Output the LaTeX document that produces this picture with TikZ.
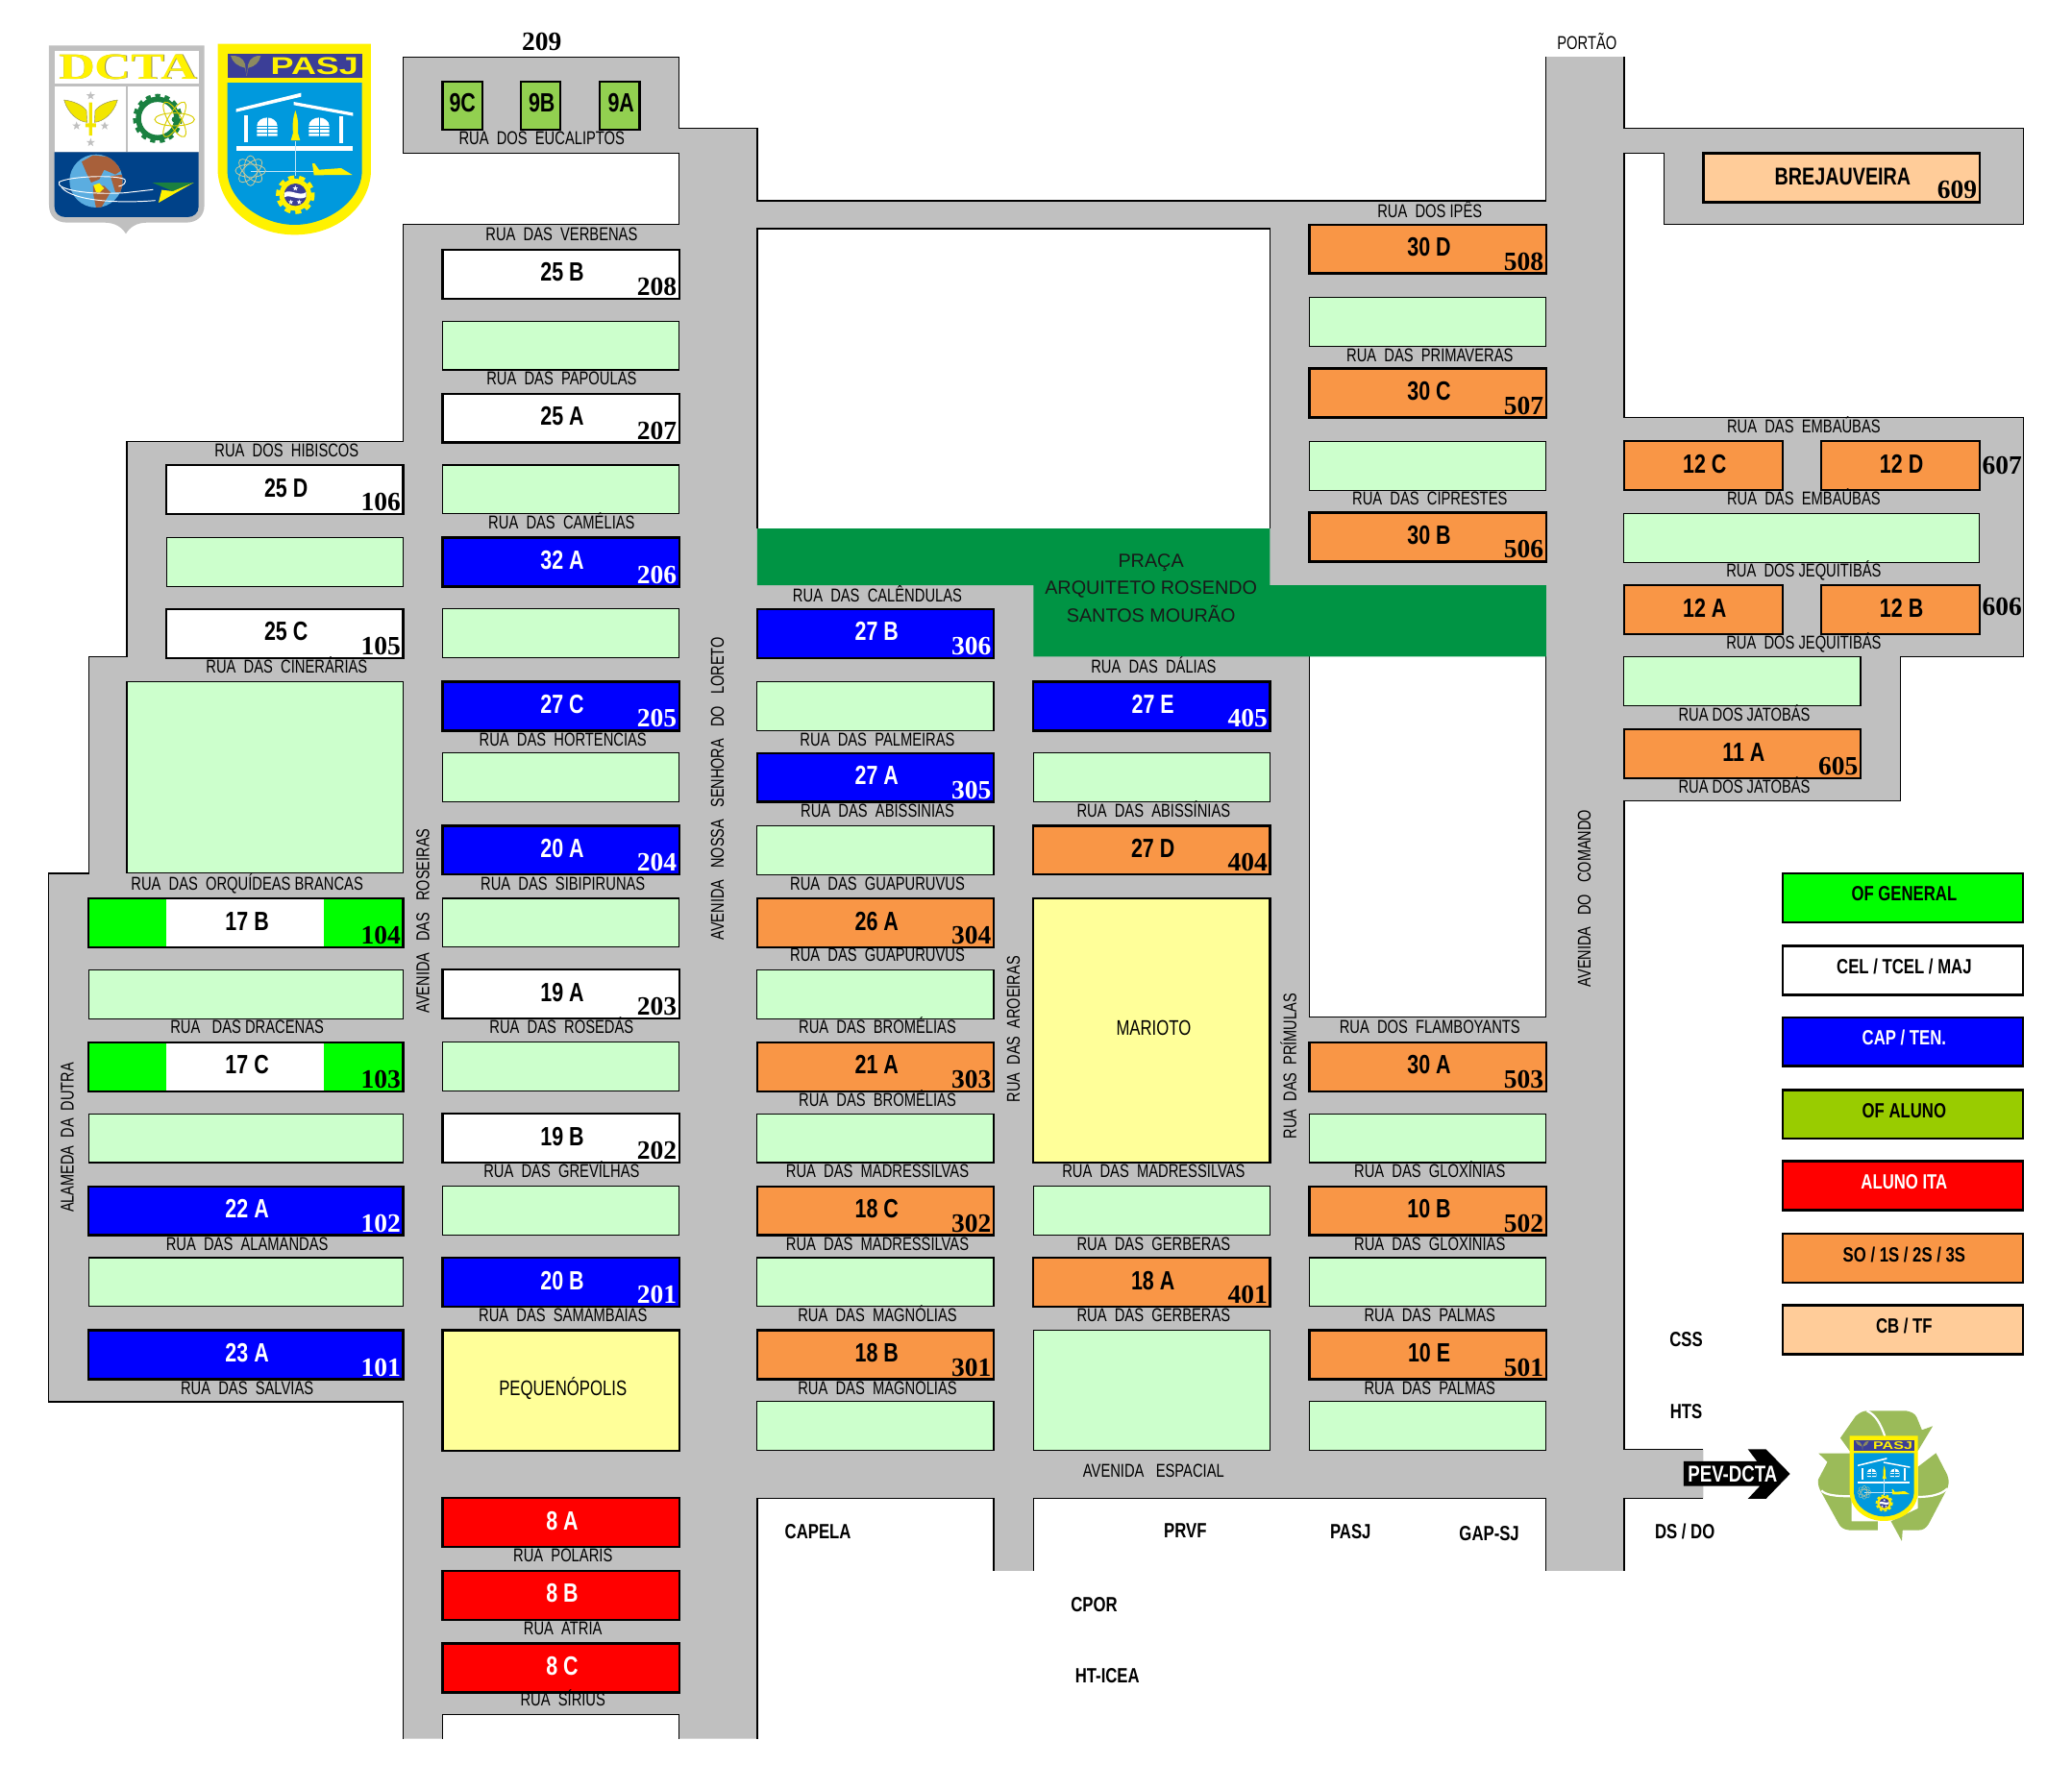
\documentclass[tikz,border=0pt]{standalone}
\usepackage{fontspec}
\setmainfont{Liberation Sans}
\newfontfamily\nar{Liberation Sans}[FakeStretch=0.76]
\newfontfamily\narb{Liberation Sans}[FakeStretch=0.78]
\newfontfamily\numf{Liberation Serif}
\newfontfamily\wideserif{Liberation Serif}[FakeStretch=1.36]
\newfontfamily\widesans{Liberation Sans}[FakeStretch=1.42]
\definecolor{road}{HTML}{C0C0C0}
\definecolor{lightg}{HTML}{CCFFCC}
\definecolor{orangel}{HTML}{F99646}
\definecolor{cbcol}{HTML}{FFCC99}
\definecolor{yell}{HTML}{FFFF99}
\definecolor{praca}{HTML}{009444}
\definecolor{alunoc}{HTML}{99CC00}
\definecolor{ninec}{HTML}{92D050}
\definecolor{recyc}{HTML}{9BBB59}
\definecolor{dblue}{HTML}{004289}
\definecolor{globe}{HTML}{5BADE0}
\definecolor{brown1}{HTML}{A8603A}
\definecolor{pblue}{HTML}{0099DD}
\definecolor{pbar}{HTML}{3B3E97}
\definecolor{lgyellow}{HTML}{FFF200}
\definecolor{wing}{HTML}{F2E600}
\definecolor{geargr}{HTML}{1A8040}
\definecolor{atomg}{HTML}{C8C89A}
\definecolor{olivew}{HTML}{8C8A60}
\newcount\lotc
\tikzset{
  roadline/.style={draw=black,line width=.45pt},
  thinlot/.style={draw=black,line width=.4pt,fill=lightg},
  thicklot/.style={draw=black,line width=.85pt},
  lotname/.style={inner sep=0pt,anchor=base,font=\narb\bfseries\fontsize{10}{11}\selectfont},
  lotnum/.style={inner sep=0pt,anchor=base east,font=\numf\bfseries\fontsize{10}{11}\selectfont},
  streetlabel/.style={inner sep=0pt,anchor=base,font=\nar\fontsize{7.05}{8}\selectfont,text=black},
  sidelabel/.style={inner sep=0pt,rotate=90,font=\nar\fontsize{6.95}{8}\selectfont,text=black},
  placelabel/.style={inner sep=0pt,anchor=base,font=\narb\bfseries\fontsize{7.8}{9}\selectfont},
  legendname/.style={inner sep=0pt,anchor=base,font=\narb\bfseries\fontsize{7.8}{9}\selectfont},
}
% x1 x2 ytop fill textcolour label number
\newcommand\lot[7]{%
  \global\advance\lotc by 1
  \draw[thicklot,fill=#4] (#1,#3) rectangle (#2,{#3+37});
  \node[lotname,text=#5] (lot\the\lotc) at ({(#1+#2)/2+1},{#3+24}) {#6};
  \node[lotnum,text=#5] (num\the\lotc) at ({#2-1.5},{#3+34.5}) {#7};
}
\newcommand\lotg[3]{\draw[thinlot] (#1,#3) rectangle (#2,{#3+37});}
\newcommand\rua[3]{\global\advance\lotc by 1 \node[streetlabel] (rua\the\lotc) at (#1,{#2+4.5}) {#3};}
\newcommand\side[3]{\global\advance\lotc by 1 \node[sidelabel] (side\the\lotc) at (#1,#2) {#3};}
\newcommand\place[3]{\global\advance\lotc by 1 \node[placelabel] (pl\the\lotc) at (#1,{#2+5}) {#3};}
\newcommand\legend[4]{\global\advance\lotc by 1
  \draw[thicklot,fill=#2] (1349,#1) rectangle (1531,{#1+37});
  \node[legendname,text=#3] (leg\the\lotc) at (1441,{#1+21}) {#4};}
\newcommand\lgstar[4]{\begin{scope}[shift={(#1,#2)}]\fill[#4] (-90:#3) -- (-54:#3*.4) -- (-18:#3) -- (18:#3*.4) -- (54:#3) -- (90:#3*.4) -- (126:#3) -- (162:#3*.4) -- (198:#3) -- (234:#3*.4) -- cycle;\end{scope}}
% PASJ shield, in crop coordinates
\newcommand\pasjlogo[2]{%
  \pgfmathsetmacro\lgs{#2}
  \pgfmathsetmacro\lgfont{9.2*\lgs}
  \pgfmathsetmacro\lga{.45*\lgs}
  \pgfmathsetmacro\lgb{.3*\lgs}
  \pgfmathsetmacro\lgc{1.35*\lgs}
  \pgfmathsetmacro\lgd{2.25*\lgs}
  \pgfmathsetmacro\lge{1.85*\lgs}
  \fill[lgyellow] (560,47) -- (1038,47) -- (1038,450) .. controls (1030,560) and (930,643) .. (800,643) .. controls (670,643) and (570,560) .. (560,450) -- cycle;
  \fill[pbar] (590,77) rectangle (1010,152);
  \fill[pblue] (590,168) -- (1010,168) -- (1010,450) .. controls (1005,540) and (900,612) .. (800,612) .. controls (700,612) and (595,540) .. (590,450) -- cycle;
  \node[inner sep=0pt,text=lgyellow,font=\widesans\bfseries\fontsize{\lgfont}{\lgfont}\selectfont] (#1text) at (862,116) {PASJ};
  % eagle
  \fill[olivew] (600,84) .. controls (620,82) and (640,90) .. (645,110) -- (650,148) -- (655,110) .. controls (660,90) and (680,82) .. (694,84) .. controls (690,105) and (675,118) .. (655,122) -- (650,148) -- (645,122) .. controls (625,118) and (605,105) .. (600,84) -- cycle;
  % building
  \fill[white] (617,250) -- (820,200) -- (820,212) -- (617,260) -- cycle;
  \fill[white] (797,228) -- (982,262) -- (982,272) -- (797,238) -- cycle;
  \fill[white] (643,270) rectangle (654,355);
  \fill[white] (938,272) rectangle (950,358);
  \fill[white] (617,365) rectangle (982,381);
  \foreach \wx in {0,162}{
    \begin{scope}[shift={(\wx,0)}]
      \fill[white] (682,335) -- (682,303) .. controls (682,288) and (698,277) .. (714,277) .. controls (730,277) and (746,288) .. (746,303) -- (746,335) -- cycle;
      \draw[pblue,line width=\lgb pt] (682,303) -- (746,303) (682,313) -- (746,313) (682,324) -- (746,324) (714,277) -- (714,335);
    \end{scope}}
  \draw[white!75!pblue,line width=\lga pt] (802,350) -- (802,460) (662,446) -- (870,446);
  \fill[lgyellow] (802,255) .. controls (810,275) and (812,300) .. (810,325) -- (817,348) -- (788,348) -- (795,325) .. controls (792,300) and (795,275) .. (802,255) -- cycle;
  \fill[lgyellow] (855,420) -- (862,420) -- (876,440) -- (945,435) -- (980,456) -- (860,457) -- cycle;
  \foreach \ang in {0,45,90,135}{
    \begin{scope}[shift={(662,443)},rotate=\ang]\draw[atomg,line width=\lgb pt] (0,0) ellipse [x radius=47,y radius=20];\end{scope}}
  % gear
  \fill[lgyellow] (802,518) circle [radius=50];
  \draw[lgyellow,line width=\lgc pt,dash pattern=on \lgd pt off \lge pt] (802,518) circle [radius=55];
  \fill[pbar] (802,518) circle [radius=35];
  \fill[white] (768,512) .. controls (785,498) and (815,525) .. (836,510) -- (836,524) .. controls (815,540) and (785,515) .. (768,526) -- cycle;
  \lgstar{802}{498}{9}{white}
  \lgstar{788}{541}{8}{white}
  \lgstar{814}{541}{8}{white}
}
\begin{document}
\begin{tikzpicture}[x=.5pt,y=-.5pt]
\useasboundingbox (0,0) rectangle (1568,1335.3);
\fill[white] (0,0) rectangle (1568,1335.3);
% roads
\fill[road] (1229,43) -- (1229,97) -- (1531,97) -- (1531,170) -- (1259,170) -- (1259,116) -- (1229,116) -- (1229,316) -- (1531,316) -- (1531,497) -- (1438,497) -- (1438,606) -- (1229,606) -- (1229,1097) -- (1289,1097) -- (1289,1134) -- (1229,1134) -- (1229,1189) -- (1170,1189) -- (1170,1134) -- (782,1134) -- (782,1189) -- (752,1189) -- (752,1134) -- (573,1134) -- (573,1316) -- (305,1316) -- (305,1061) -- (37,1061) -- (37,661) -- (67,661) -- (67,497) -- (96,497) -- (96,334) -- (305,334) -- (305,170) -- (514,170) -- (514,116) -- (305,116) -- (305,43) -- (514,43) -- (514,97) -- (573,97) -- (573,152) -- (1170,152) -- (1170,43) -- cycle;
\draw[roadline] (1229,43) -- (1229,97) -- (1531,97) -- (1531,170) -- (1259,170) -- (1259,116) -- (1229,116) -- (1229,316) -- (1531,316) -- (1531,497) -- (1438,497) -- (1438,606) -- (1229,606) -- (1229,1097) -- (1289,1097);
\draw[roadline] (1289,1134) -- (1229,1134) -- (1229,1189);
\draw[roadline] (1170,1189) -- (1170,1134) -- (782,1134) -- (782,1189);
\draw[roadline] (752,1189) -- (752,1134) -- (573,1134) -- (573,1316);
\draw[roadline] (305,1316) -- (305,1061) -- (37,1061) -- (37,661) -- (67,661) -- (67,497) -- (96,497) -- (96,334) -- (305,334) -- (305,170) -- (514,170) -- (514,116) -- (305,116) -- (305,43) -- (514,43) -- (514,97) -- (573,97) -- (573,152) -- (1170,152) -- (1170,43);
% open areas
\draw[roadline,fill=white] (573,400) -- (573,173) -- (961,173) -- (961,400);
\draw[roadline,fill=white] (991,497) -- (991,770) -- (1170,770) -- (1170,497);
\fill[praca] (573,400) -- (961,400) -- (961,443) -- (1170,443) -- (1170,497) -- (782,497) -- (782,443) -- (573,443) -- cycle;
\node[inner sep=0pt,align=center,font=\fontsize{7.2}{10.4}\selectfont,text=black!90] (praca) at (871,445) {PRAÇA\\ARQUITETO ROSENDO\\SANTOS MOURÃO};
% column A
\lot{126}{305}{352}{white}{black}{25 D}{106}
\lotg{126}{305}{407}
\lot{126}{305}{461}{white}{black}{25 C}{105}
\draw[thinlot] (96,516) rectangle (305,661);
\fill[white] (67,680) rectangle (305,717);
\fill[green] (67,680) rectangle (126,717); \fill[green] (245,680) rectangle (305,717);
\draw[thicklot] (67,680) rectangle (305,717);
\node[lotname] (l17b) at (187,704) {17 B};
\node[lotnum] (n104) at (303.5,714.5) {104};
\lotg{67}{305}{734}
\fill[white] (67,789) rectangle (305,826);
\fill[green] (67,789) rectangle (126,826); \fill[green] (245,789) rectangle (305,826);
\draw[thicklot] (67,789) rectangle (305,826);
\node[lotname] (l17c) at (187,813) {17 C};
\node[lotnum] (n103) at (303.5,823.5) {103};
\lotg{67}{305}{843}
\lot{67}{305}{898}{blue}{white}{22 A}{102}
\lotg{67}{305}{952}
\lot{67}{305}{1007}{blue}{white}{23 A}{101}
% column B
\draw[thicklot,fill=ninec] (335,62) rectangle (365,98);
\draw[thicklot,fill=ninec] (394,62) rectangle (424,98);
\draw[thicklot,fill=ninec] (454,62) rectangle (484,98);
\node[lotname] (n9c) at (350,85) {9C};
\node[lotname] (n9b) at (410,85) {9B};
\node[lotname] (n9a) at (470,85) {9A};
\node[lotnum,anchor=base] (n209) at (410,38) {209};
\lot{335}{514}{189}{white}{black}{25 B}{208}
\lotg{335}{514}{243}
\lot{335}{514}{298}{white}{black}{25 A}{207}
\lotg{335}{514}{352}
\lot{335}{514}{407}{blue}{white}{32 A}{206}
\lotg{335}{514}{461}
\lot{335}{514}{516}{blue}{white}{27 C}{205}
\lotg{335}{514}{570}
\lot{335}{514}{625}{blue}{white}{20 A}{204}
\lotg{335}{514}{680}
\lot{335}{514}{734}{white}{black}{19 A}{203}
\lotg{335}{514}{789}
\lot{335}{514}{843}{white}{black}{19 B}{202}
\lotg{335}{514}{898}
\lot{335}{514}{952}{blue}{white}{20 B}{201}
\draw[thicklot,fill=yell] (335,1007) rectangle (514,1098);
\node[inner sep=0pt,font=\nar\fontsize{8}{9}\selectfont] (pequen) at (426,1051) {PEQUENÓPOLIS};
\lot{335}{514}{1134}{red}{white}{8 A}{}
\lot{335}{514}{1189}{red}{white}{8 B}{}
\lot{335}{514}{1244}{red}{white}{8 C}{}
\fill[white] (335,1298) rectangle (514,1316);
\draw[line width=.4pt] (335,1316) -- (335,1298) -- (514,1298) -- (514,1316);
% column C
\lot{573}{752}{461}{blue}{white}{27 B}{306}
\lotg{573}{752}{516}
\lot{573}{752}{570}{blue}{white}{27 A}{305}
\lotg{573}{752}{625}
\lot{573}{752}{680}{orangel}{black}{26 A}{304}
\lotg{573}{752}{734}
\lot{573}{752}{789}{orangel}{black}{21 A}{303}
\lotg{573}{752}{843}
\lot{573}{752}{898}{orangel}{black}{18 C}{302}
\lotg{573}{752}{952}
\lot{573}{752}{1007}{orangel}{black}{18 B}{301}
\lotg{573}{752}{1061}
% column D
\lot{782}{961}{516}{blue}{white}{27 E}{405}
\lotg{782}{961}{570}
\lot{782}{961}{625}{orangel}{black}{27 D}{404}
\draw[thicklot,fill=yell] (782,680) rectangle (961,880);
\node[inner sep=0pt,font=\nar\fontsize{8}{9}\selectfont] (mariot) at (873,778) {MARIOTO};
\lotg{782}{961}{898}
\lot{782}{961}{952}{orangel}{black}{18 A}{401}
\draw[thinlot] (782,1007) rectangle (961,1098);
% column E
\lot{991}{1170}{170}{orangel}{black}{30 D}{508}
\lotg{991}{1170}{225}
\lot{991}{1170}{279}{orangel}{black}{30 C}{507}
\lotg{991}{1170}{334}
\lot{991}{1170}{388}{orangel}{black}{30 B}{506}
\lot{991}{1170}{789}{orangel}{black}{30 A}{503}
\lotg{991}{1170}{843}
\lot{991}{1170}{898}{orangel}{black}{10 B}{502}
\lotg{991}{1170}{952}
\lot{991}{1170}{1007}{orangel}{black}{10 E}{501}
\lotg{991}{1170}{1061}
% right side
\lot{1289}{1498}{116}{cbcol}{black}{\fontsize{9.2}{10}\selectfont BREJAUVEIRA}{609}
\lot{1229}{1349}{334}{orangel}{black}{12 C}{}
\lot{1378}{1498}{334}{orangel}{black}{12 D}{}
\node[lotnum] (n607) at (1530.5,359) {607};
\lotg{1229}{1498}{389}
\lot{1229}{1349}{443}{orangel}{black}{12 A}{}
\lot{1378}{1498}{443}{orangel}{black}{12 B}{}
\node[lotnum] (n606) at (1530.5,466) {606};
\lotg{1229}{1408}{497}
\lot{1229}{1408}{552}{orangel}{black}{11 A}{605}
% legend
\legend{661}{green}{black}{OF GENERAL}
\legend{716}{white}{black}{CEL / TCEL / MAJ}
\legend{770}{blue}{white}{CAP / TEN.}
\legend{825}{alunoc}{black}{OF ALUNO}
\legend{879}{red}{white}{ALUNO ITA}
\legend{934}{orangel}{black}{SO / 1S / 2S / 3S}
\legend{988}{cbcol}{black}{CB / TF}
% street names
\rua{410}{105}{RUA~~DOS~~EUCALIPTOS}
\rua{425}{178}{RUA~~DAS~~VERBENAS}
\rua{425}{287}{RUA~~DAS~~PAPOULAS}
\rua{217}{341}{RUA~~DOS~~HIBISCOS}
\rua{425}{396}{RUA~~DAS~~CAMÉLIAS}
\rua{217}{505}{RUA~~DAS~~CINERÁRIAS}
\rua{426}{560}{RUA~~DAS~~HORTÊNCIAS}
\rua{187}{669}{RUA~~DAS~~ORQUÍDEAS BRANCAS}
\rua{426}{669}{RUA~~DAS~~SIBIPIRUNAS}
\rua{187}{778}{RUA~~~DAS DRACENAS}
\rua{425}{778}{RUA~~DAS~~ROSEDÁS}
\rua{425}{887}{RUA~~DAS~~GREVÍLHAS}
\rua{187}{942}{RUA~~DAS~~ALAMANDAS}
\rua{426}{996}{RUA~~DAS~~SAMAMBAIAS}
\rua{187}{1051}{RUA~~DAS~~SÁLVIAS}
\rua{426}{1178}{RUA~~POLARIS}
\rua{426}{1233}{RUA~~ATRIA}
\rua{426}{1287}{RUA~~SÍRIUS}
\rua{664}{451}{RUA~~DAS~~CALÊNDULAS}
\rua{664}{560}{RUA~~DAS~~PALMEIRAS}
\rua{664}{614}{RUA~~DAS~~ABISSÍNIAS}
\rua{664}{669}{RUA~~DAS~~GUAPURUVUS}
\rua{664}{723}{RUA~~DAS~~GUAPURUVUS}
\rua{664}{778}{RUA~~DAS~~BROMÉLIAS}
\rua{664}{833}{RUA~~DAS~~BROMÉLIAS}
\rua{664}{887}{RUA~~DAS~~MADRESSILVAS}
\rua{664}{942}{RUA~~DAS~~MADRESSILVAS}
\rua{664}{996}{RUA~~DAS~~MAGNÓLIAS}
\rua{664}{1051}{RUA~~DAS~~MAGNÓLIAS}
\rua{873}{505}{RUA~~DAS~~DÁLIAS}
\rua{873}{614}{RUA~~DAS~~ABISSÍNIAS}
\rua{873}{887}{RUA~~DAS~~MADRESSILVAS}
\rua{873}{942}{RUA~~DAS~~GERBERAS}
\rua{873}{996}{RUA~~DAS~~GERBERAS}
\rua{873}{1114}{AVENIDA~~~ESPACIAL}
\rua{1082}{160}{RUA~~DOS~IPÊS}
\rua{1082}{269}{RUA~~DAS~~PRIMAVERAS}
\rua{1082}{378}{RUA~~DAS~~CIPRESTES}
\rua{1082}{778}{RUA~~DOS~~FLAMBOYANTS}
\rua{1082}{887}{RUA~~DAS~~GLOXÍNIAS}
\rua{1082}{942}{RUA~~DAS~~GLOXÍNIAS}
\rua{1082}{996}{RUA~~DAS~~PALMAS}
\rua{1082}{1051}{RUA~~DAS~~PALMAS}
\rua{1365}{323}{RUA~~DAS~~EMBAÚBAS}
\rua{1365}{378}{RUA~~DAS~~EMBAÚBAS}
\rua{1365}{432}{RUA~~DOS~JEQUITIBÁS}
\rua{1365}{487}{RUA~~DOS~JEQUITIBÁS}
\rua{1320}{541}{RUA DOS JATOBÁS}
\rua{1320}{596}{RUA DOS JATOBÁS}
\rua{1201}{33}{PORTÃO}
\side{51}{861}{ALAMEDA~~DA~~DUTRA}
\side{320}{697}{AVENIDA~~~DAS~~~ROSEIRAS}
\side{543}{597}{AVENIDA~~~NOSSA~~~SENHORA~~~DO~~~LORETO}
\side{767}{779}{RUA~~DAS~~AROEIRAS}
\side{975}{807}{RUA~~DAS~~PRÍMULAS}
\side{1199}{680}{AVENIDA~~~DO~~~COMANDO}
% places
\place{619}{1160}{CAPELA}
\place{897}{1159}{PRVF}
\place{1022}{1160}{PASJ}
\place{1127}{1161}{GAP-SJ}
\place{828}{1215}{CPOR}
\place{838}{1269}{HT-ICEA}
\place{1276}{1014}{CSS}
\place{1276}{1069}{HTS}
\place{1275}{1160}{DS / DO}
% recycling emblem and arrow
\begin{scope}[shift={(1090.9,981.8)},x=.1521pt,y=-.1212pt]
  \fill[black] (602,513) -- (785,513) -- (762,475) -- (807,475) -- (867,552) -- (807,630) -- (762,630) -- (792,590) -- (602,590) -- cycle;
  \node[inner sep=0pt,text=white,font=\narb\bfseries\fontsize{8.7}{9}\selectfont] (pev) at (724,552) {PEV-DCTA};
  \fill[recyc] (992,440) -- (1030,372) .. controls (1040,360) and (1050,355) .. (1060,355) -- (1155,355) .. controls (1170,358) and (1178,365) .. (1182,375) -- (1195,415) -- (1222,403) -- (1185,480) -- (1015,480) -- cycle;
  \draw[white,line width=.8pt] (1058,355) .. controls (1080,368) and (1092,395) .. (1103,435);
  \fill[recyc] (938,488) -- (1020,488) -- (1020,700) -- (1085,700) -- (1085,728) -- (1015,728) .. controls (1000,726) and (992,718) .. (988,708) -- (945,610) .. controls (938,595) and (936,585) .. (937,570) -- (960,515) -- cycle;
  \draw[white,line width=.8pt] (945,604) .. controls (955,618) and (980,622) .. (1020,622);
  \fill[recyc] (1185,530) -- (1230,487) -- (1258,555) .. controls (1264,575) and (1262,590) .. (1255,605) -- (1212,708) .. controls (1205,722) and (1198,728) .. (1185,728) -- (1147,728) -- (1145,762) -- (1118,700) -- (1185,660) -- cycle;
  \draw[white,line width=.8pt] (1185,624) .. controls (1220,624) and (1245,615) .. (1258,598);
\end{scope}
\begin{scope}[shift={(1339.2,1081.7)},x=.05406pt,y=-.05406pt]
  \pasjlogo{pasjmini}{.446}
\end{scope}
% logos
\begin{scope}[shift={(29.09,21.82)},x=.1212pt,y=-.1212pt]
  % DCTA shield
  \fill[road] (33,52) -- (518,52) -- (518,550) .. controls (518,585) and (495,605) .. (460,605) -- (340,605) .. controls (305,605) and (285,620) .. (273,640) .. controls (261,620) and (240,605) .. (205,605) -- (90,605) .. controls (55,605) and (33,585) .. (33,550) -- cycle;
  \fill[white] (50,68) rectangle (500,170);
  \fill[white] (50,180) rectangle (272,385);
  \fill[white] (278,180) rectangle (500,385);
  \fill[dblue] (50,385) -- (500,385) -- (500,555) .. controls (500,575) and (485,588) .. (465,588) -- (85,588) .. controls (65,588) and (50,575) .. (50,555) -- cycle;
  \node[inner sep=0pt,text=olivew,font=\wideserif\bfseries\fontsize{14}{14}\selectfont] (dctash) at (281,121) {DCTA};
  \node[inner sep=0pt,text=lgyellow,font=\wideserif\bfseries\fontsize{14}{14}\selectfont] (dcta) at (280,120) {DCTA};
  % wings and sword
  \fill[wing,draw=olivew,line width=.15pt] (80,222) .. controls (105,225) and (135,235) .. (150,255) -- (152,292) .. controls (125,290) and (92,265) .. (80,222) -- cycle;
  \fill[wing,draw=olivew,line width=.15pt] (247,222) .. controls (222,225) and (192,235) .. (177,255) -- (175,292) .. controls (202,290) and (235,265) .. (247,222) -- cycle;
  \fill[wing] (158,230) -- (168,230) -- (168,295) -- (180,295) -- (180,307) -- (168,307) -- (168,333) -- (158,333) -- (158,307) -- (147,307) -- (147,295) -- (158,295) -- cycle;
  \lgstar{163}{209}{14}{road}
  \lgstar{119}{303}{14}{road}
  \lgstar{207}{303}{14}{road}
  \lgstar{163}{355}{14}{road}
  % gear and atom
  \draw[geargr,line width=2.0pt] (372,280) circle [radius=60];
  \draw[geargr,line width=1.2pt,dash pattern=on 1.9pt off 1.75pt] (372,280) circle [radius=72];
  \begin{scope}[shift={(425,283)}]
    \draw[lgyellow!85!black,line width=.35pt] (0,0) ellipse [x radius=62,y radius=20];
    \begin{scope}[rotate=60]\draw[lgyellow!85!black,line width=.35pt] (0,0) ellipse [x radius=62,y radius=20];\end{scope}
    \begin{scope}[rotate=-60]\draw[lgyellow!85!black,line width=.35pt] (0,0) ellipse [x radius=62,y radius=20];\end{scope}
    \fill[geargr] (0,0) circle [radius=9];
  \end{scope}
  % globe
  \fill[globe] (180,475) circle [radius=83];
  \begin{scope}
    \clip (180,475) circle [radius=83];
    \fill[brown1] (135,415) -- (170,395) -- (225,400) -- (262,440) -- (240,455) -- (205,440) -- (190,470) -- (165,480) -- (150,450) -- cycle;
    \fill[brown1] (225,460) -- (262,455) -- (262,510) -- (240,510) -- cycle;
    \fill[brown1] (170,490) -- (205,490) -- (225,510) -- (195,560) -- (180,560) -- (172,520) -- cycle;
    \fill[lgyellow] (172,488) -- (190,482) -- (205,498) -- (190,512) -- (180,510) -- cycle;
  \end{scope}
  \draw[white,line width=.35pt] (270,470) .. controls (240,455) and (100,460) .. (65,478) .. controls (50,500) and (150,520) .. (270,512) -- (358,502);
  \draw[white,line width=.35pt] (270,470) .. controls (275,480) and (265,490) .. (250,492);
  \draw[white,line width=.35pt] (72,495) .. controls (110,540) and (260,545) .. (365,536);
  \fill[geargr] (355,480) -- (485,480) -- (420,507) -- cycle;
  \fill[lgyellow] (485,480) -- (375,543) -- (385,503) -- (420,507) -- cycle;
  \pasjlogo{pasjmain}{1}
\end{scope}
\end{tikzpicture}
\end{document}
